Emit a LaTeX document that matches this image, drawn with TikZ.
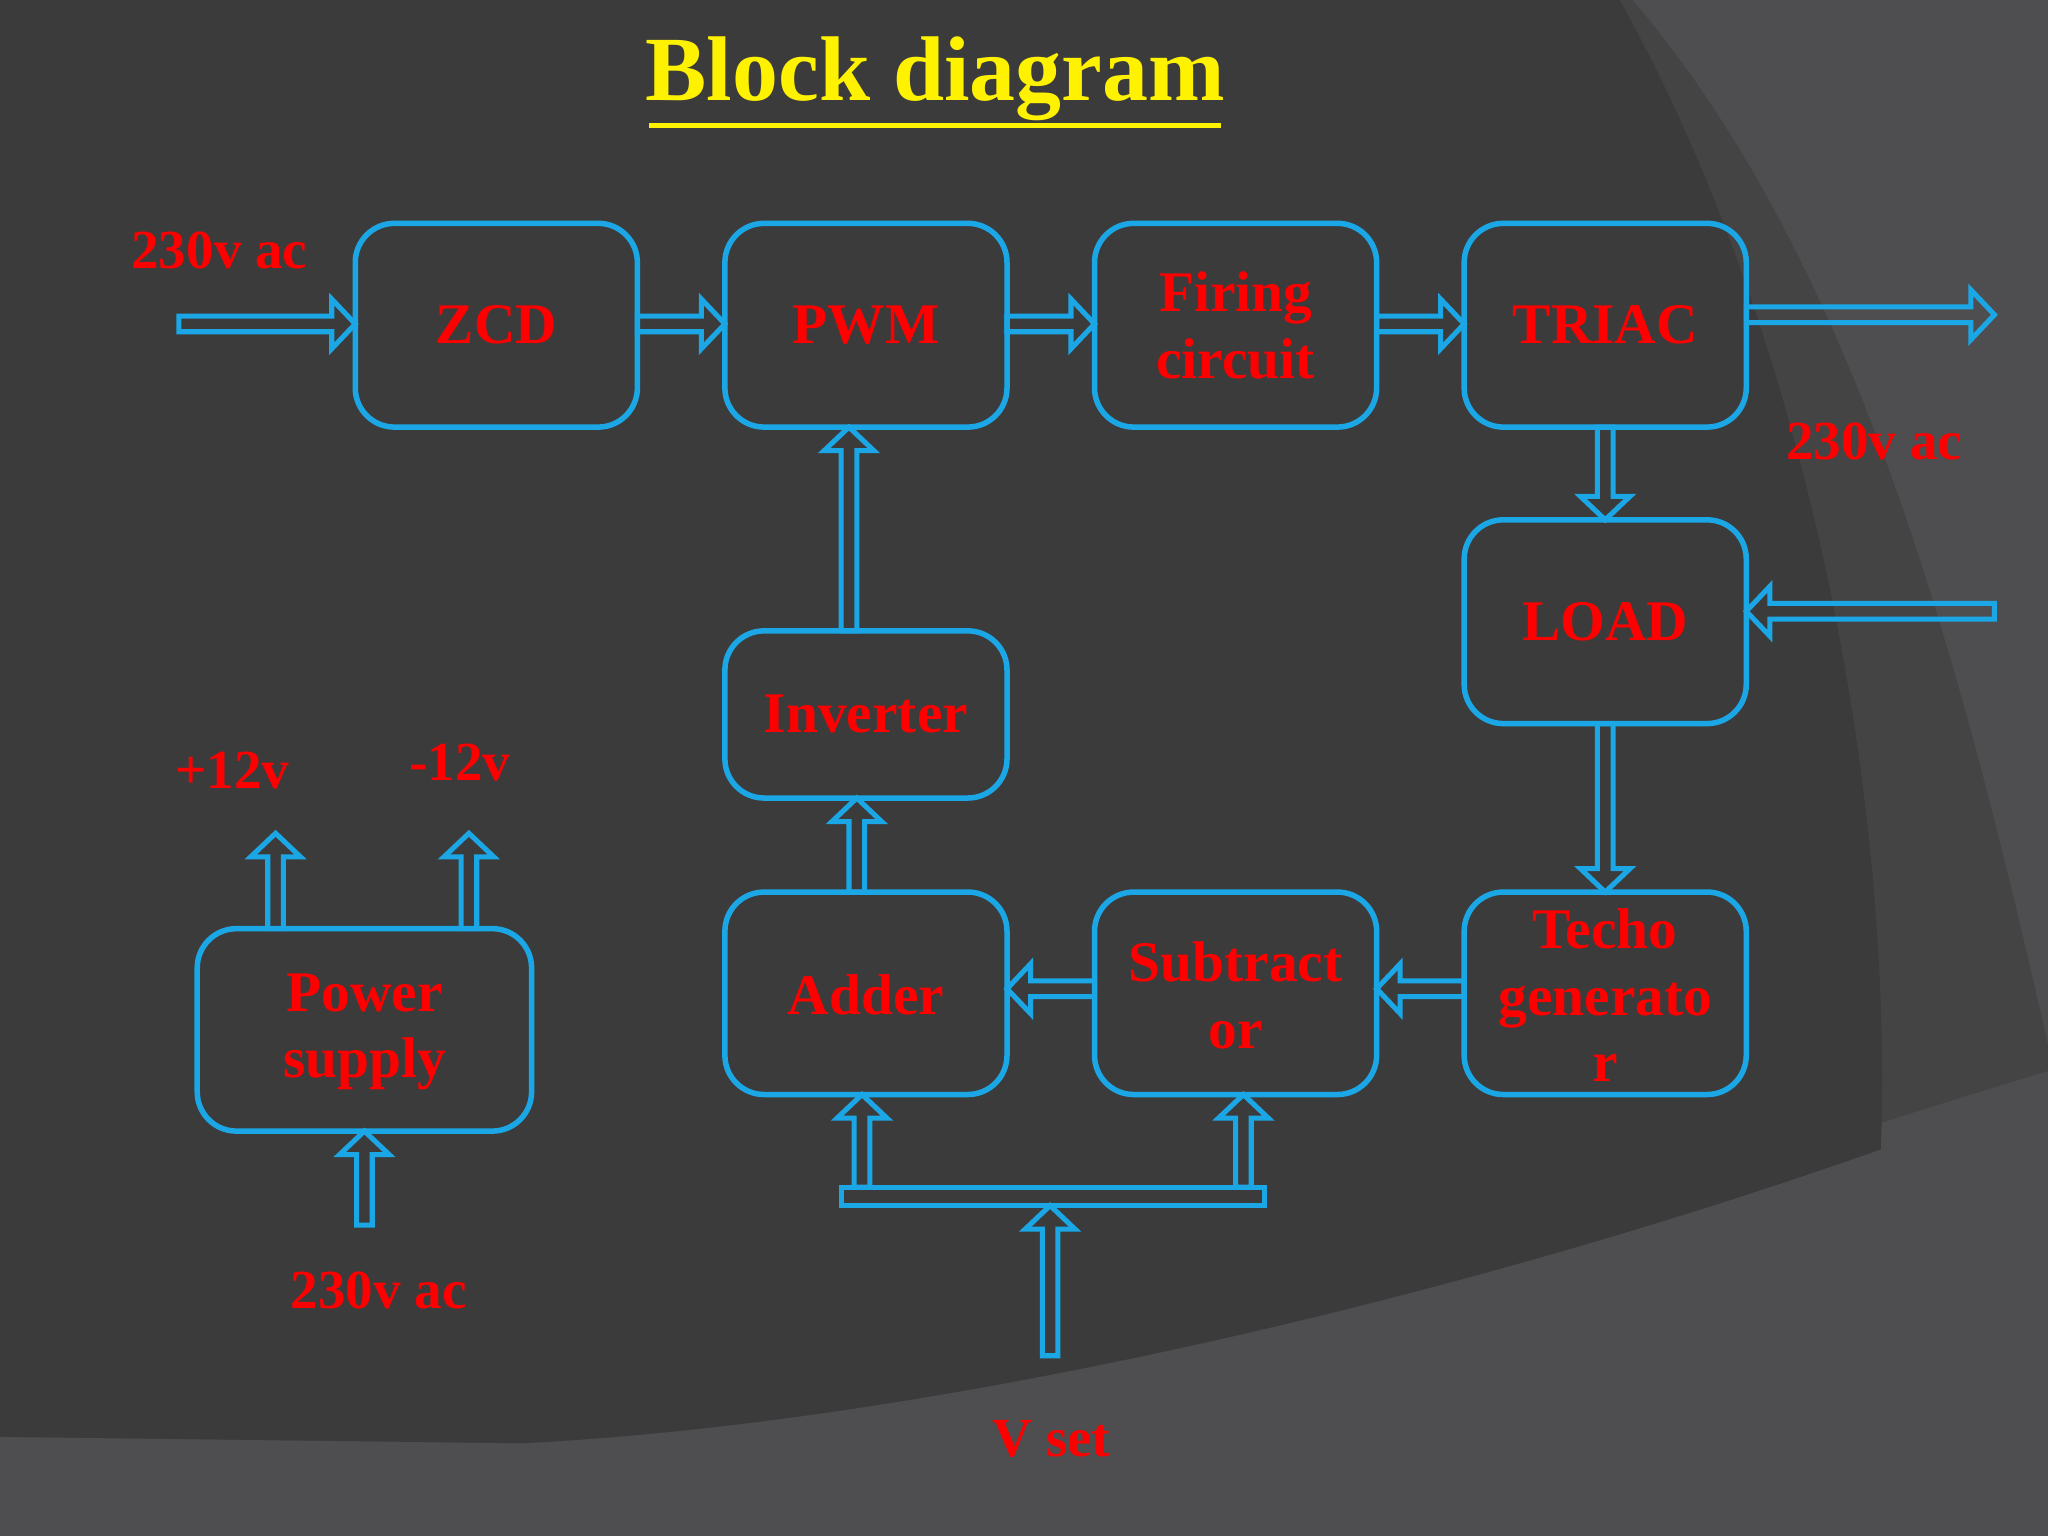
\documentclass[tikz,border=0pt]{standalone}
\usepackage{fontspec}
\setmainfont{Liberation Serif}
\begin{document}
\begin{tikzpicture}[x=0.01cm,y=-0.01cm,
  box/.style={draw=cyanb,line width=1.2pt,rounded corners=0.3cm,fill=none},
  arr/.style={draw=cyanb,line width=1.1pt,line join=miter},
  btxt/.style={text=red,font=\fontsize{12.5}{14.5}\selectfont\bfseries,align=center},
  lbl/.style={text=red,font=\fontsize{12}{14}\selectfont\bfseries}]
\definecolor{cyanb}{HTML}{1BA7E6}
\definecolor{bgA}{HTML}{3B3B3C}
\definecolor{bgB}{HTML}{4E4E50}
\definecolor{bgC}{HTML}{444445}
\useasboundingbox (0,0) rectangle (1568,1176);
\fill[bgB] (0,0) rectangle (1568,1176);
\fill[bgC] (0,0) -- (1250,0) .. controls (1420,200) and (1500,500) .. (1568,800) -- (1568,820) .. controls (1300,900) and (900,1050) .. (400,1105) -- (0,1100) -- cycle;
\fill[bgA] (0,0) -- (1240,0) .. controls (1380,250) and (1450,600) .. (1440,880) .. controls (1100,1000) and (700,1090) .. (400,1105) -- (0,1100) -- cycle;
\newcommand\hA[4]{\draw[arr] (#1,{#3-6}) -- ({#2-#4*18},{#3-6}) -- ({#2-#4*18},{#3-19}) -- (#2,#3) -- ({#2-#4*18},{#3+19}) -- ({#2-#4*18},{#3+6}) -- (#1,{#3+6}) -- cycle;}
\newcommand\vA[4]{\draw[arr] ({#3-6},#1) -- ({#3-6},{#2-#4*18}) -- ({#3-19},{#2-#4*18}) -- (#3,#2) -- ({#3+19},{#2-#4*18}) -- ({#3+6},{#2-#4*18}) -- ({#3+6},#1) -- cycle;}
\node[lbl,font=\fontsize{20}{22}\selectfont\bfseries,text=yellow] (title) at (716,60) {Block diagram};
\draw[yellow,line width=1.1pt] (497,96) -- (935,96);
\draw[box] (272,171) rectangle (488,327); \node[btxt] (zcd) at (380,249) {ZCD};
\draw[box] (555,171) rectangle (771,327); \node[btxt] (pwm) at (663,249) {PWM};
\draw[box] (838,171) rectangle (1054,327); \node[btxt] (fir) at (946,249) {Firing\\circuit};
\draw[box] (1121,171) rectangle (1337,327); \node[btxt] (tri) at (1229,249) {TRIAC};
\draw[box] (1121,398) rectangle (1337,554); \node[btxt] (load) at (1229,476) {LOAD};
\draw[box] (555,483) rectangle (771,611); \node[btxt] (inv) at (663,547) {Inverter};
\draw[box] (555,683) rectangle (771,838); \node[btxt] (add) at (663,762) {Adder};
\draw[box] (838,683) rectangle (1054,838); \node[btxt] (sub) at (946,762) {Subtract\\or};
\draw[box] (1121,683) rectangle (1337,838); \node[btxt] (tach) at (1229,762) {Techo\\generato\\r};
\draw[box] (151,711) rectangle (407,866); \node[btxt] (ps) at (279,790) {Power\\supply};
\hA{137}{272}{248}{1}
\hA{488}{555}{248}{1}
\hA{771}{838}{248}{1}
\hA{1054}{1121}{248}{1}
\hA{1337}{1527}{241}{1}
\vA{327}{398}{1229}{1}
\hA{1527}{1337}{468}{-1}
\vA{554}{683}{1229}{1}
\hA{1121}{1054}{757}{-1}
\hA{838}{771}{757}{-1}
\vA{683}{611}{656}{-1}
\vA{483}{327}{650}{-1}
\draw[arr] (644,909) rectangle (968,923);
\vA{909}{838}{660}{-1}
\vA{909}{838}{952}{-1}
\vA{1038}{923}{804}{-1}
\vA{711}{638}{211}{-1}
\vA{711}{638}{359}{-1}
\vA{938}{866}{279}{-1}
\node[lbl] (l1) at (168,192) {230v ac};
\node[lbl] (l2) at (1435,338) {230v ac};
\node[lbl] (l3) at (290,988) {230v ac};
\node[lbl] (l4) at (178,590) {+12v};
\node[lbl] (l5) at (352,584) {-12v};
\node[lbl] (l6) at (805,1102) {V set};
\end{tikzpicture}
\end{document}
